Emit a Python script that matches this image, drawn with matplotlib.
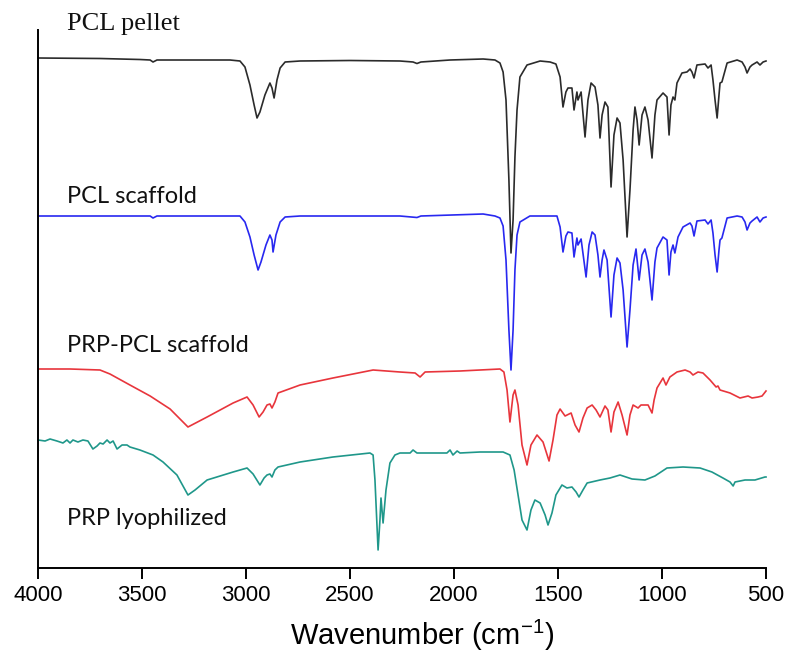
import matplotlib
matplotlib.use("Agg")
import matplotlib.pyplot as plt

plt.rcParams['mathtext.fontset'] = 'custom'
plt.rcParams['mathtext.rm'] = 'Liberation Sans'
plt.rcParams['mathtext.it'] = 'Liberation Sans'

# ---- data (wavenumber, cm-1 ; transmittance, arbitrary offset units) ----
pellet_wn = [4000, 3702, 3510, 3461, 3447, 3428, 3221, 3077, 3029, 3005, 2981, 2961, 2947, 2933, 2909, 2885, 2875, 2865, 2851, 2836, 2812, 2740, 2500, 2260, 2197, 2178, 2159, 2019, 1860, 1803, 1779, 1764, 1750, 1736, 1726, 1716, 1707, 1697, 1683, 1649, 1586, 1538, 1510, 1490, 1476, 1462, 1452, 1433, 1423, 1409, 1404, 1389, 1370, 1356, 1341, 1322, 1308, 1298, 1288, 1274, 1260, 1245, 1231, 1216, 1202, 1187, 1168, 1154, 1139, 1130, 1120, 1110, 1096, 1082, 1067, 1048, 1034, 1024, 995, 976, 966, 957, 947, 938, 928, 904, 880, 865, 856, 846, 832, 793, 779, 764, 755, 745, 735, 726, 721, 712, 687, 639, 615, 601, 591, 577, 567, 543, 529, 514, 500]
pellet_t = [510, 509.5, 508.5, 508, 506, 508, 508, 508, 507, 501, 483, 463, 450, 456, 473, 485, 480, 470, 488, 500, 506, 507, 507.5, 507, 506, 504.5, 506, 508, 509, 508, 505, 496, 468, 388, 315, 348, 411, 458, 491, 503, 507, 506, 504, 491, 461, 476, 480, 480, 458, 476, 468, 476, 431, 468, 485, 481, 463, 430, 453, 466, 461, 381, 433, 450, 445, 408, 331, 378, 438, 461, 448, 423, 453, 461, 448, 410, 453, 468, 475, 471, 433, 463, 471, 468, 485, 495, 496, 499, 496, 490, 503, 504, 500, 503, 488, 468, 450, 473, 485, 486, 505, 508, 506, 501, 495, 501, 503, 506, 503, 506, 507]

scaffold_wn = [4000, 3702, 3461, 3447, 3428, 3029, 3005, 2981, 2961, 2942, 2928, 2904, 2885, 2875, 2870, 2856, 2836, 2812, 2740, 2260, 2178, 2159, 1860, 1803, 1779, 1764, 1750, 1736, 1726, 1716, 1707, 1697, 1683, 1635, 1505, 1490, 1476, 1462, 1452, 1433, 1423, 1409, 1404, 1389, 1365, 1351, 1336, 1322, 1308, 1298, 1288, 1279, 1264, 1245, 1231, 1216, 1202, 1187, 1168, 1154, 1139, 1125, 1110, 1096, 1082, 1067, 1048, 1034, 1024, 995, 976, 966, 957, 947, 938, 923, 899, 865, 856, 846, 832, 793, 779, 764, 755, 745, 735, 726, 721, 712, 687, 639, 615, 601, 591, 577, 567, 543, 529, 514, 500]
scaffold_t = [352, 352, 352, 350, 352, 352, 346, 331, 313, 298, 306, 323, 333, 328, 316, 333, 346, 351, 352, 352, 350.5, 352, 354, 352, 350, 342, 308, 238, 198, 238, 298, 333, 346, 352, 352, 341, 316, 332, 336, 335, 311, 330, 323, 329, 291, 323, 336, 333, 313, 291, 308, 318, 308, 251, 293, 310, 305, 278, 221, 258, 303, 319, 288, 313, 319, 306, 268, 306, 320, 331, 328, 293, 316, 323, 315, 331, 341, 345, 342, 332, 347, 348, 344, 348, 335, 313, 296, 318, 328, 330, 350, 352, 351, 346, 338, 345, 347, 351, 346, 350, 351]

prp_pcl_wn = [4000, 3846, 3702, 3654, 3558, 3461, 3365, 3279, 3187, 3062, 2995, 2966, 2937, 2918, 2899, 2885, 2875, 2861, 2846, 2740, 2582, 2389, 2260, 2187, 2163, 2139, 1971, 1779, 1760, 1745, 1731, 1716, 1707, 1692, 1673, 1649, 1630, 1601, 1572, 1543, 1524, 1505, 1490, 1466, 1437, 1418, 1399, 1380, 1360, 1336, 1317, 1298, 1274, 1260, 1245, 1231, 1211, 1192, 1168, 1154, 1139, 1115, 1101, 1067, 1048, 1038, 1024, 995, 981, 962, 928, 889, 865, 851, 827, 803, 769, 740, 731, 721, 673, 625, 586, 567, 538, 519, 500]
prp_pcl_t = [199, 199, 198, 194, 183, 172, 159, 141, 151, 165, 171, 163, 151, 156, 163, 164, 160, 166, 175, 183, 190, 198, 196, 195, 191, 196, 197, 199, 196, 178, 146, 173, 178, 163, 123, 103, 123, 133, 126, 107, 128, 153, 159, 152, 155, 143, 136, 150, 160, 163, 158, 151, 162, 158, 136, 156, 166, 153, 133, 153, 163, 160, 163, 163, 155, 168, 180, 190, 183, 191, 196, 198, 196, 193, 196, 195, 188, 181, 182, 178, 175, 170, 172, 170, 171, 172, 177]

prp_wn = [4000, 3966, 3942, 3909, 3880, 3861, 3846, 3832, 3808, 3784, 3760, 3736, 3716, 3702, 3687, 3668, 3654, 3639, 3620, 3596, 3572, 3558, 3510, 3447, 3399, 3332, 3279, 3245, 3187, 3062, 2995, 2966, 2933, 2913, 2899, 2885, 2875, 2861, 2846, 2740, 2582, 2404, 2389, 2380, 2365, 2356, 2351, 2341, 2327, 2308, 2284, 2260, 2211, 2197, 2178, 2115, 2034, 2019, 2005, 1985, 1971, 1875, 1764, 1731, 1711, 1692, 1673, 1649, 1630, 1611, 1586, 1562, 1548, 1529, 1510, 1481, 1457, 1433, 1413, 1399, 1380, 1360, 1298, 1250, 1202, 1144, 1082, 1034, 976, 899, 817, 760, 707, 673, 658, 649, 601, 553, 505, 500]
prp_t = [128, 127, 129, 127, 125, 128, 125, 128, 126, 128, 127, 119, 122, 125, 124, 128, 125, 127, 119, 123, 123, 121, 118, 113, 106, 93, 73, 78, 88, 96, 100, 94, 83, 90, 93, 94, 91, 98, 101, 106, 111, 115, 113, 88, 18, 48, 70, 45, 78, 105, 113, 115, 115, 118, 115, 115, 115, 118, 113, 117, 115, 116, 116, 113, 98, 73, 48, 38, 58, 68, 65, 53, 43, 55, 73, 83, 80, 81, 76, 71, 78, 85, 88, 90, 93, 89, 88, 92, 100, 101, 100, 96, 90, 86, 82, 86, 88, 88, 91, 91]

series_names = ["PCL pellet", "PCL scaffold", "PRP-PCL scaffold", "PRP lyophilized"]
x_ticks = [4000, 3500, 3000, 2500, 2000, 1500, 1000, 500]

colors = ["#2b2b2b", "#2828f0", "#e8353c", "#1f978a"]

fig = plt.figure(figsize=(7.88, 6.66), dpi=100)
ax = fig.add_axes([38/788, 1-568/666, (766-38)/788, (568-30)/666])

for wn, t, c in zip([pellet_wn, scaffold_wn, prp_pcl_wn, prp_wn],
                    [pellet_t, scaffold_t, prp_pcl_t, prp_t], colors):
    ax.plot(wn, t, color=c, lw=1.2, clip_on=False, solid_joinstyle='round')

ax.set_xlim(4000, 500)
ax.set_ylim(0, 538)
ax.set_xticks(x_ticks)
ax.set_xticklabels([str(v) for v in x_ticks], fontfamily="Liberation Sans", fontsize=16)
ax.set_yticks([])
for s in ["top", "right"]:
    ax.spines[s].set_visible(False)
for s in ["left", "bottom"]:
    ax.spines[s].set_linewidth(1.4)
ax.tick_params(axis="x", direction="out", length=8, width=1.4, pad=4)
ax.set_xlabel("Wavenumber (cm$^{-1}$)", fontfamily="Liberation Sans", fontsize=21)
ax.xaxis.set_label_coords(0.527, -0.125)
ax.xaxis.label.set_va("center")

# series labels
label_pos = [(3860, 538), (3860, 365), (3860, 216), (3860, 43)]
fams = ["Liberation Serif", "Lato", "Lato", "Lato"]
sizes = [19, 17, 17, 17]
for name, (x, y), f, sz in zip(series_names, label_pos, fams, sizes):
    ax.text(x, y, name, fontfamily=f, fontsize=sz, ha="left", va="baseline",
            color="#111111", clip_on=False)

fig.savefig("out.png", dpi=100)
